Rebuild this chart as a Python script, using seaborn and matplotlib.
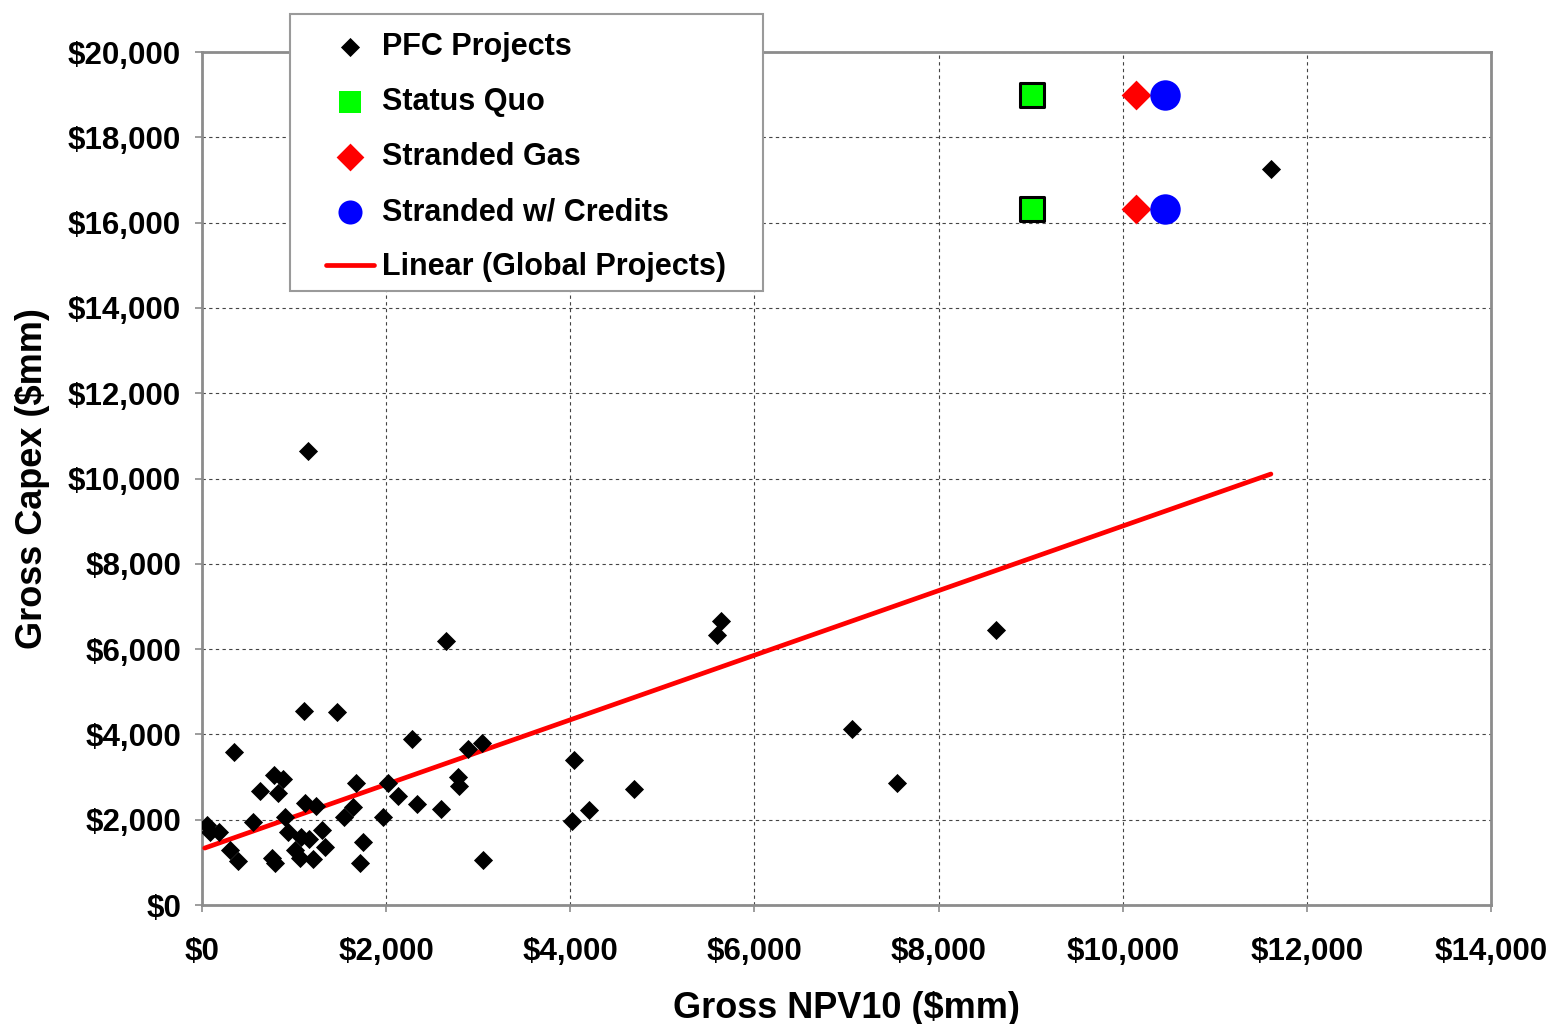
import matplotlib
matplotlib.use("Agg")
import matplotlib.pyplot as plt
import seaborn as sns
import pandas as pd
from matplotlib.ticker import FuncFormatter
from matplotlib.patches import Rectangle

# PFC project points (Gross NPV10, Gross Capex), $mm
pfc_npv = [50, 90, 180, 300, 350, 390, 550, 630, 760, 780, 790, 830, 880, 900,
           930, 1010, 1060, 1075, 1110, 1120, 1150, 1160, 1210, 1240, 1300, 1340,
           1470, 1540, 1640, 1670, 1720, 1750, 1970, 2020, 2130, 2280, 2340, 2600,
           2650, 2780, 2790, 2890, 3040, 3050, 4020, 4040, 4200, 4690, 5590, 5640,
           7060, 7550, 8620, 11610]
pfc_capex = [1880, 1720, 1720, 1290, 3580, 1040, 1950, 2680, 1100, 3050, 980, 2620,
             2950, 2070, 1720, 1290, 1100, 1600, 4560, 2400, 10650, 1540, 1070, 2330,
             1760, 1350, 4530, 2070, 2300, 2850, 980, 1480, 2060, 2850, 2560, 3890,
             2370, 2260, 6200, 3000, 2790, 3650, 3790, 1060, 1960, 3390, 2220, 2710,
             6320, 6660, 4130, 2860, 6450, 17260]

# scenario points
quo_npv = [9010, 9010]
quo_capex = [19000, 16320]
gas_npv = [10140, 10140]
gas_capex = [19000, 16320]
cred_npv = [10460, 10460]
cred_capex = [19000, 16320]

# linear trend (global projects), end points
trend_npv = [30, 11610]
trend_capex = [1335, 10105]

sns.set_theme(style="white")
plt.rcParams["font.family"] = ["Liberation Sans", "DejaVu Sans"]
plt.rcParams["font.weight"] = "bold"
plt.rcParams["text.color"] = "black"
plt.rcParams["axes.labelcolor"] = "black"
plt.rcParams["xtick.color"] = "black"
plt.rcParams["ytick.color"] = "black"

fig = plt.figure(figsize=(15.51, 10.24), dpi=100)
ax = fig.add_axes([0.1302, 0.1162, 0.8311, 0.833])

df = pd.DataFrame({"npv": pfc_npv, "capex": pfc_capex})
sns.lineplot(x=trend_npv, y=trend_capex, ax=ax, color="#ff0000", linewidth=3.4,
             label="Linear (Global Projects)", zorder=3)
sns.scatterplot(data=df, x="npv", y="capex", ax=ax, marker="D", s=95, color="black",
                edgecolor="black", linewidth=0, label="PFC Projects", zorder=4)
sns.scatterplot(x=quo_npv, y=quo_capex, ax=ax, marker="s", s=300, color="#00ff00",
                edgecolor="black", linewidth=2.2, label="Status Quo", zorder=4)
sns.scatterplot(x=gas_npv, y=gas_capex, ax=ax, marker="D", s=230, color="#ff0000",
                edgecolor="#ff0000", linewidth=0, label="Stranded Gas", zorder=4)
sns.scatterplot(x=cred_npv, y=cred_capex, ax=ax, marker="o", s=480, color="#0000ff",
                edgecolor="#0000ff", linewidth=0, label="Stranded w/ Credits", zorder=4)

ax.set_xlim(0, 14000)
ax.set_ylim(0, 20000)
ax.set_xticks(range(0, 14001, 2000))
ax.set_yticks(range(0, 20001, 2000))
money = FuncFormatter(lambda v, p: "${:,.0f}".format(v))
ax.xaxis.set_major_formatter(money)
ax.yaxis.set_major_formatter(money)
ax.grid(True, color="#444444", linestyle=(0, (3, 3)), linewidth=0.8)
ax.set_axisbelow(True)
for sp in ax.spines.values():
    sp.set_color("#8c8c8c")
    sp.set_linewidth(2)
ax.tick_params(axis="both", which="major", labelsize=22.5, length=5, width=1.2,
               color="#8c8c8c", labelcolor="black", direction="out",
               bottom=True, left=True)
ax.tick_params(axis="x", pad=18)
ax.tick_params(axis="y", pad=10)
for lbl in ax.get_xticklabels() + ax.get_yticklabels():
    lbl.set_fontweight("bold")

ax.set_xlabel("Gross NPV10 ($mm)", fontsize=26, fontweight="bold", labelpad=17)
ax.set_ylabel("Gross Capex ($mm)", fontsize=26, fontweight="bold", labelpad=13)

handles, labels = ax.get_legend_handles_labels()
order = ["PFC Projects", "Status Quo", "Stranded Gas", "Stranded w/ Credits",
         "Linear (Global Projects)"]
hmap = dict(zip(labels, handles))
ax.get_legend().remove()

# legend box drawn separately, content placed inside it
fig.patches.append(Rectangle((290 / 1551, 1 - 291 / 1024), 473 / 1551, 277 / 1024,
                             transform=fig.transFigure, facecolor="white",
                             edgecolor="#9a9a9a", linewidth=1.5, zorder=5))
leg = fig.legend([hmap[k] for k in order], order, loc="upper left",
                 bbox_to_anchor=(326 / 1551, 1 - 32 / 1024), fontsize=22,
                 frameon=False, borderpad=0, labelspacing=0.82, handlelength=1.57,
                 handletextpad=0.25, borderaxespad=0)
leg.set_zorder(6)
for t in leg.get_texts():
    t.set_fontweight("bold")
for h in leg.legend_handles[:4]:
    h.set_edgecolor(h.get_facecolor())
    h.set_linewidth(0)
leg.legend_handles[0].set_sizes([95])
leg.legend_handles[1].set_sizes([230])
leg.legend_handles[2].set_sizes([200])
leg.legend_handles[3].set_sizes([300])

fig.savefig("out.png", dpi=100, facecolor="white")
